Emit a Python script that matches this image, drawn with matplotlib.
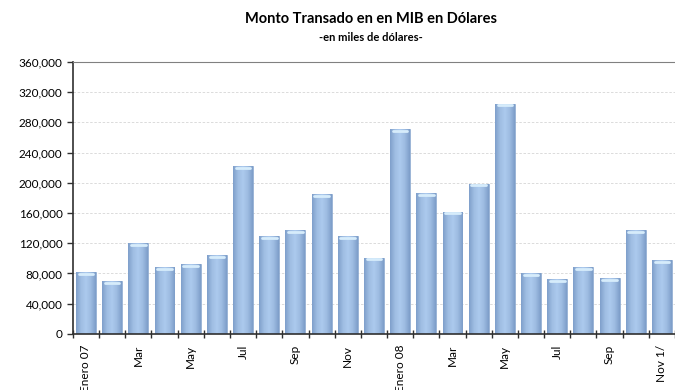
import matplotlib.pyplot as plt
import numpy as np
from matplotlib.colors import LinearSegmentedColormap
from matplotlib.ticker import FuncFormatter, MultipleLocator

months = ["Enero 07", "Feb", "Mar", "Abr", "May", "Jun", "Jul", "Ago", "Sep", "Oct", "Nov", "Dic",
          "Enero 08", "Feb", "Mar", "Abr", "May", "Jun", "Jul", "Ago", "Sep", "Oct", "Nov 1/"]
amounts = [82000, 70000, 120000, 88000, 93000, 104000, 222000, 130000, 137000, 185000, 130000, 101000,
           271000, 187000, 162000, 199000, 305000, 80000, 72000, 89000, 74000, 137000, 98000]
shown_labels = [m if i % 2 == 0 else "" for i, m in enumerate(months)]

plt.rcParams["font.family"] = ["Lato", "DejaVu Sans"]

fig = plt.figure(figsize=(6.75, 3.9), dpi=100)
ax = fig.add_axes([0.108, 0.144, 0.892, 0.697])

x = np.arange(len(amounts))
bars = ax.bar(x, amounts, width=0.76, color="#95b3d7", edgecolor="#8aa8cf", linewidth=0.5, zorder=2)

# cylinder-like shading inside each bar
cmap = LinearSegmentedColormap.from_list("cyl", ["#7f9fcb", "#9fbde2", "#accaee", "#9dbbe1", "#7d9dc9"])
grad = np.linspace(0, 1, 64).reshape(1, -1)
for b in bars:
    x0, w, h = b.get_x(), b.get_width(), b.get_height()
    im = ax.imshow(grad, cmap=cmap, aspect="auto", extent=[x0, x0 + w, 0, h], zorder=2.5)
    im.set_clip_path(b)
    ax.plot([x0 + 0.1, x0 + w - 0.1], [h - 2500, h - 2500], color="#d6ecfb", lw=2.0,
            solid_capstyle="round", zorder=3)

ax.set_xlim(-0.5, len(amounts) - 0.5)
ax.set_ylim(0, 360000)
ax.yaxis.set_major_locator(MultipleLocator(40000))
ax.yaxis.set_major_formatter(FuncFormatter(lambda v, p: f"{int(v):,}"))
ax.grid(axis="y", color="#d6d6d6", linestyle=(0, (3, 2)), linewidth=0.6, zorder=0)

ax.set_xticks(x)
ax.set_xticklabels(shown_labels, rotation=90, fontsize=8.5)
ax.tick_params(axis="x", length=0, pad=8)
ax.set_xticks(np.arange(-0.5, len(amounts)), minor=True)
ax.tick_params(axis="x", which="minor", length=6, width=1, color="#303030", direction="inout")
ax.tick_params(axis="y", labelsize=8.5, length=4, width=1, color="#303030", direction="out")

ax.spines["right"].set_visible(False)
ax.spines["top"].set_color("#808080")
ax.spines["left"].set_color("#303030")
ax.spines["bottom"].set_color("#303030")
ax.spines["left"].set_linewidth(1.2)
ax.spines["bottom"].set_linewidth(1.2)

fig.text(0.55, 0.94, "Monto Transado en en MIB en Dólares", ha="center", fontsize=10.5, fontweight="bold")
fig.text(0.55, 0.895, "-en miles de dólares-", ha="center", fontsize=8, fontweight="bold")

fig.savefig("out.png", dpi=100)
